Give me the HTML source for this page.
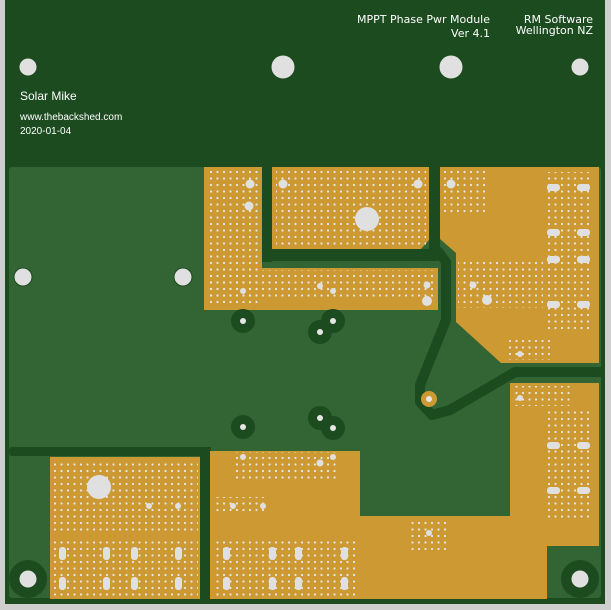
<!DOCTYPE html>
<html><head><meta charset="utf-8"><style>
html,body{margin:0;padding:0;background:#c8c8c8}
svg{display:block}
text{font-family:"Liberation Sans",sans-serif;fill:#fff}
</style></head><body>
<svg width="611" height="610" viewBox="0 0 611 610" xmlns="http://www.w3.org/2000/svg">
<defs>
<pattern id="dots" x="0" y="0" width="6.5" height="6.5" patternUnits="userSpaceOnUse">
<circle cx="3" cy="3" r="1.1" fill="#e6e6e6"/>
</pattern>
</defs>
<rect x="0" y="0" width="611" height="610" fill="#cfcfcf"/>
<rect x="5" y="0" width="600" height="604" fill="#1b4b1f"/>
<rect x="9" y="167" width="592" height="431" rx="3" fill="#336434"/>
<rect x="262" y="167" width="10" height="95" fill="#1b4b1f"/>
<rect x="262" y="249" width="178" height="12" rx="4" fill="#1b4b1f"/>
<rect x="429" y="167" width="11" height="85" fill="#1b4b1f"/>
<path d="M437 250 L446 262 L446 320 L420 385 L420 402 L432 415 L450 410 L515 372 L601 372" stroke="#1b4b1f" stroke-width="10" fill="none" stroke-linejoin="round"/>
<rect x="9" y="447" width="200" height="9" rx="3" fill="#1b4b1f"/>
<rect x="200" y="447" width="11" height="152" fill="#1b4b1f"/>
<g fill="#cc9933">
<path d="M204 167 H262 V268 H438 V310 H204 Z"/>
<path d="M272 167 H429 V240 L421 249 H272 Z"/>
<path d="M440 167 H599 V363 H501 L456 322 V253 L440 239 Z"/>
<rect x="50" y="457" width="150" height="142"/>
<path d="M210 451 H360 V516 H510 V383 H599 V546 H547 V599 H210 Z"/>
</g>
<g fill="url(#dots)">
<rect x="206" y="170" width="54" height="136"/>
<rect x="206" y="270" width="228" height="28"/>
<rect x="276" y="170" width="150" height="76"/>
<rect x="443" y="170" width="45" height="45"/>
<rect x="545" y="172" width="48" height="160"/>
<rect x="458" y="258" width="85" height="50"/>
<rect x="505" y="340" width="45" height="20"/>
<rect x="512" y="386" width="60" height="20"/>
<rect x="545" y="410" width="48" height="110"/>
<rect x="52" y="460" width="146" height="72"/>
<rect x="52" y="540" width="146" height="58"/>
<rect x="233" y="452" width="105" height="30"/>
<rect x="213" y="538" width="145" height="58"/>
<rect x="212" y="497" width="55" height="18"/>
<rect x="410" y="520" width="38" height="30"/>
</g>
<g fill="#e0e0e0">
<rect x="547" y="184" width="13" height="7" rx="3"/><rect x="577" y="184" width="13" height="7" rx="3"/>
<rect x="547" y="229" width="13" height="7" rx="3"/><rect x="577" y="229" width="13" height="7" rx="3"/>
<rect x="547" y="256" width="13" height="7" rx="3"/><rect x="577" y="256" width="13" height="7" rx="3"/>
<rect x="547" y="301" width="13" height="7" rx="3"/><rect x="577" y="301" width="13" height="7" rx="3"/>
<rect x="547" y="442" width="13" height="7" rx="3"/><rect x="577" y="442" width="13" height="7" rx="3"/>
<rect x="547" y="487" width="13" height="7" rx="3"/><rect x="577" y="487" width="13" height="7" rx="3"/>
<rect x="59" y="547" width="7" height="13" rx="3"/><rect x="103" y="547" width="7" height="13" rx="3"/><rect x="131" y="547" width="7" height="13" rx="3"/><rect x="175" y="547" width="7" height="13" rx="3"/>
<rect x="59" y="577" width="7" height="13" rx="3"/><rect x="103" y="577" width="7" height="13" rx="3"/><rect x="131" y="577" width="7" height="13" rx="3"/><rect x="175" y="577" width="7" height="13" rx="3"/>
<rect x="223" y="547" width="7" height="13" rx="3"/><rect x="269" y="547" width="7" height="13" rx="3"/><rect x="295" y="547" width="7" height="13" rx="3"/><rect x="341" y="547" width="7" height="13" rx="3"/>
<rect x="223" y="577" width="7" height="13" rx="3"/><rect x="269" y="577" width="7" height="13" rx="3"/><rect x="295" y="577" width="7" height="13" rx="3"/><rect x="341" y="577" width="7" height="13" rx="3"/>
<circle cx="367" cy="219" r="12"/><circle cx="99" cy="487" r="12"/>
<circle cx="250" cy="184" r="4.5"/><circle cx="249" cy="206" r="4.5"/>
<circle cx="283" cy="184" r="4.5"/><circle cx="418" cy="184" r="4.5"/><circle cx="451" cy="184" r="4.5"/>
<circle cx="427" cy="285" r="3.5"/><circle cx="427" cy="301" r="5"/><circle cx="320" cy="286" r="3"/><circle cx="333" cy="291" r="3"/><circle cx="243" cy="291" r="3"/>
<circle cx="487" cy="300" r="5"/><circle cx="473" cy="285" r="3.5"/><circle cx="520" cy="354" r="3"/><circle cx="520" cy="398" r="3"/>
<circle cx="243" cy="457" r="3"/><circle cx="320" cy="463" r="3.5"/><circle cx="333" cy="457" r="3"/><circle cx="149" cy="506" r="3"/><circle cx="178" cy="506" r="3"/>
<circle cx="233" cy="506" r="3"/><circle cx="263" cy="506" r="3"/><circle cx="429" cy="533" r="3"/>
</g>
<g fill="#1b4b1f">
<circle cx="243" cy="321" r="12"/><circle cx="333" cy="321" r="12"/><circle cx="320" cy="332" r="12"/>
<circle cx="243" cy="427" r="12"/><circle cx="320" cy="418" r="12"/><circle cx="333" cy="428" r="12"/>
<circle cx="28" cy="579" r="19"/><circle cx="580" cy="579" r="19"/>
</g>
<g fill="#e6e6e6">
<circle cx="243" cy="321" r="3"/><circle cx="333" cy="321" r="3"/><circle cx="320" cy="332" r="3"/>
<circle cx="243" cy="427" r="3"/><circle cx="320" cy="418" r="3"/><circle cx="333" cy="428" r="3"/>
</g>
<circle cx="429" cy="399" r="8" fill="#cc9933"/><circle cx="429" cy="399" r="3" fill="#e6e6e6"/>
<g fill="#e0e0e0" stroke="#1b4b1f" stroke-width="1">
<circle cx="28" cy="67" r="9"/><circle cx="283" cy="67" r="12"/><circle cx="451" cy="67" r="12"/><circle cx="580" cy="67" r="9"/>
<circle cx="23" cy="277" r="9"/><circle cx="183" cy="277" r="9"/>
<circle cx="28" cy="579" r="9"/><circle cx="580" cy="579" r="9"/>
</g>
<g style="font-family:'DejaVu Sans',sans-serif">
<text x="490" y="23" font-size="11" text-anchor="end" style="font-family:'DejaVu Sans',sans-serif">MPPT Phase Pwr Module</text>
<text x="490" y="37" font-size="11" text-anchor="end" style="font-family:'DejaVu Sans',sans-serif">Ver 4.1</text>
<text x="593" y="23" font-size="11" text-anchor="end" style="font-family:'DejaVu Sans',sans-serif">RM Software</text>
<text x="593" y="34" font-size="11" text-anchor="end" style="font-family:'DejaVu Sans',sans-serif">Wellington NZ</text>
</g>
<text x="20" y="100" font-size="12">Solar Mike</text>
<text x="20" y="120" font-size="10">www.thebackshed.com</text>
<text x="20" y="134" font-size="10">2020-01-04</text>
</svg>
</body></html>
